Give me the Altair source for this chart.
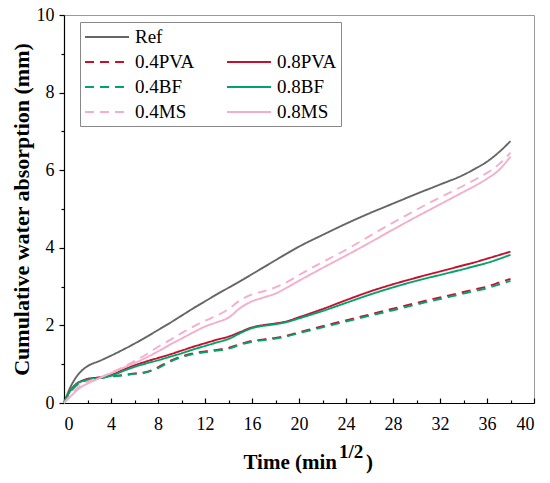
import altair as alt
import pandas as pd

time = [0, 0.5, 1, 1.5, 2, 3, 4, 5, 6, 7, 8, 9, 10, 11, 12, 13, 14, 15, 16, 17,
        18, 19, 20, 22, 24, 26, 28, 30, 32, 34, 35, 36, 37, 38]

ref = [0, 0.38, 0.65, 0.83, 0.95, 1.08, 1.22, 1.37, 1.53, 1.70, 1.88, 2.06, 2.25, 2.44, 2.62, 2.80, 2.97, 3.14, 3.32, 3.50,
       3.68, 3.86, 4.03, 4.33, 4.62, 4.89, 5.14, 5.39, 5.63, 5.88, 6.04, 6.22, 6.46, 6.75]
pva04 = [0, 0.28, 0.45, 0.55, 0.60, 0.65, 0.69, 0.72, 0.76, 0.80, 0.92, 1.08, 1.20, 1.28, 1.33, 1.37, 1.42, 1.52, 1.60, 1.64,
         1.68, 1.74, 1.82, 1.98, 2.13, 2.28, 2.43, 2.58, 2.72, 2.86, 2.93, 3.00, 3.10, 3.20]
pva08 = [0, 0.30, 0.48, 0.57, 0.62, 0.66, 0.72, 0.85, 0.97, 1.07, 1.16, 1.25, 1.35, 1.45, 1.54, 1.63, 1.71, 1.83, 1.95, 2.01,
         2.05, 2.11, 2.21, 2.42, 2.65, 2.87, 3.06, 3.23, 3.39, 3.55, 3.63, 3.72, 3.81, 3.90]
bf04 = [0, 0.27, 0.44, 0.54, 0.59, 0.64, 0.68, 0.71, 0.75, 0.79, 0.90, 1.06, 1.18, 1.26, 1.31, 1.35, 1.40, 1.50, 1.58, 1.62,
        1.66, 1.72, 1.80, 1.95, 2.10, 2.25, 2.39, 2.54, 2.68, 2.82, 2.89, 2.96, 3.05, 3.15]
bf08 = [0, 0.30, 0.47, 0.56, 0.60, 0.64, 0.70, 0.82, 0.93, 1.02, 1.10, 1.19, 1.28, 1.38, 1.47, 1.56, 1.65, 1.80, 1.93, 1.99,
        2.03, 2.09, 2.18, 2.37, 2.58, 2.79, 2.98, 3.15, 3.30, 3.45, 3.53, 3.61, 3.71, 3.82]
ms04 = [0, 0.18, 0.35, 0.47, 0.55, 0.65, 0.78, 0.92, 1.08, 1.25, 1.45, 1.62, 1.80, 1.97, 2.12, 2.25, 2.42, 2.65, 2.80, 2.88,
        2.98, 3.12, 3.30, 3.63, 3.95, 4.30, 4.65, 4.98, 5.30, 5.60, 5.76, 5.93, 6.15, 6.45]
ms08 = [0, 0.15, 0.30, 0.42, 0.50, 0.64, 0.77, 0.90, 1.03, 1.17, 1.33, 1.50, 1.66, 1.82, 1.97, 2.08, 2.20, 2.45, 2.62, 2.72,
        2.82, 2.98, 3.15, 3.48, 3.80, 4.13, 4.47, 4.80, 5.12, 5.44, 5.60, 5.78, 6.00, 6.35]

series_names = ["Ref", " ", "0.4PVA", "0.8PVA", "0.4BF", "0.8BF", "0.4MS", "0.8MS"]
series_colors = ["#666666", "rgba(0,0,0,0)", "#C8102E", "#C8102E", "#00A36C", "#00A36C", "#F4AECB", "#F4AECB"]
series_dashes = [[1, 0], [1, 0], [9, 6], [1, 0], [9, 6], [1, 0], [9, 6], [1, 0]]

x_major = [0, 4, 8, 12, 16, 20, 24, 28, 32, 36, 40]
x_minor = [2, 6, 10, 14, 18, 22, 26, 30, 34, 38]
y_major = [0, 2, 4, 6, 8, 10]
y_minor = [1, 3, 5, 7, 9]

series_values = {"Ref": ref, "0.4PVA": pva04, "0.8PVA": pva08, "0.4BF": bf04,
                 "0.8BF": bf08, "0.4MS": ms04, "0.8MS": ms08}
rows = []
for name, vals in series_values.items():
    for t, v in zip(time, vals):
        rows.append({"series": name, "t": t, "v": v})
df = pd.DataFrame(rows)

W, H = 470, 388
FONT = "Liberation Serif"

xscale = alt.Scale(domain=[0, 40], nice=False)
yscale = alt.Scale(domain=[0, 10], nice=False)

lines = alt.Chart(df).mark_line(strokeWidth=1.9, interpolate="monotone").encode(
    x=alt.X("t:Q", scale=xscale,
            axis=alt.Axis(values=x_major, title="", ticks=False, labelPadding=12,
                          orient="bottom", format="d")),
    y=alt.Y("v:Q", scale=yscale,
            axis=alt.Axis(values=y_major, title="Cumulative water absorption (mm)",
                          tickSize=5, labelPadding=5, titlePadding=3, orient="left",
                          titleFontSize=22)),
    color=alt.Color("series:N", scale=alt.Scale(domain=series_names, range=series_colors),
                    sort=series_names, title=None,
                    legend=alt.Legend(orient="none", legendX=16, legendY=7, columns=2,
                                      direction="horizontal",
                                      symbolType="M-1,0H3.4", symbolSize=400, symbolStrokeWidth=2,
                                      symbolFillColor="transparent",
                                      labelFont=FONT, labelFontSize=19, labelColor="black",
                                      strokeColor="#888888", padding=4, rowPadding=4,
                                      columnPadding=28, labelOffset=29, labelLimit=200)),
    strokeDash=alt.StrokeDash("series:N", scale=alt.Scale(domain=series_names, range=series_dashes),
                              sort=series_names, title=None),
)

xticks_major = alt.Chart(df).mark_point(opacity=0).encode(
    x=alt.X("t:Q", scale=xscale,
            axis=alt.Axis(orient="top", offset=-H, values=x_major, labels=False, domain=False,
                          tickSize=5, title=""))
)
xticks_minor = alt.Chart(df).mark_point(opacity=0).encode(
    x=alt.X("t:Q", scale=xscale,
            axis=alt.Axis(orient="top", offset=-H, values=x_minor, labels=False, domain=False,
                          tickSize=3, title=""))
)
yticks_minor = alt.Chart(df).mark_point(opacity=0).encode(
    y=alt.Y("v:Q", scale=yscale,
            axis=alt.Axis(orient="left", values=y_minor, labels=False, domain=False,
                          tickSize=3, title=""))
)

one = alt.Data(values=[{"a": 1}])
t_main = alt.Chart(one).mark_text(font=FONT, fontSize=21, fontWeight="bold", align="right",
                                  baseline="alphabetic", color="black").encode(
    x=alt.value(273), y=alt.value(454), text=alt.value("Time (min"))
t_sup = alt.Chart(one).mark_text(font=FONT, fontSize=19, fontWeight="bold", align="left",
                                 baseline="alphabetic", color="black").encode(
    x=alt.value(275), y=alt.value(443), text=alt.value("1/2"))
t_close = alt.Chart(one).mark_text(font=FONT, fontSize=21, fontWeight="bold", align="left",
                                   baseline="alphabetic", color="black").encode(
    x=alt.value(302), y=alt.value(454), text=alt.value(")"))

chart = alt.layer(lines, xticks_major, xticks_minor, yticks_minor, t_main, t_sup, t_close).resolve_axis(
    x="independent", y="independent"
).properties(
    width=W, height=H,
    autosize=alt.AutoSizeParams(type="none"),
    padding={"left": 56, "top": 7, "right": 8, "bottom": 76},
).configure_view(
    stroke="#999999", strokeWidth=1
).configure_axis(
    labelFont=FONT, labelFontSize=18, labelColor="black",
    titleFont=FONT, titleFontSize=20, titleFontWeight="bold", titleColor="black",
    domainColor="black", tickColor="black", domainWidth=1.2, tickWidth=1.2, grid=False
)

chart.save("out.html", embed_options={"renderer": "svg", "actions": False})
